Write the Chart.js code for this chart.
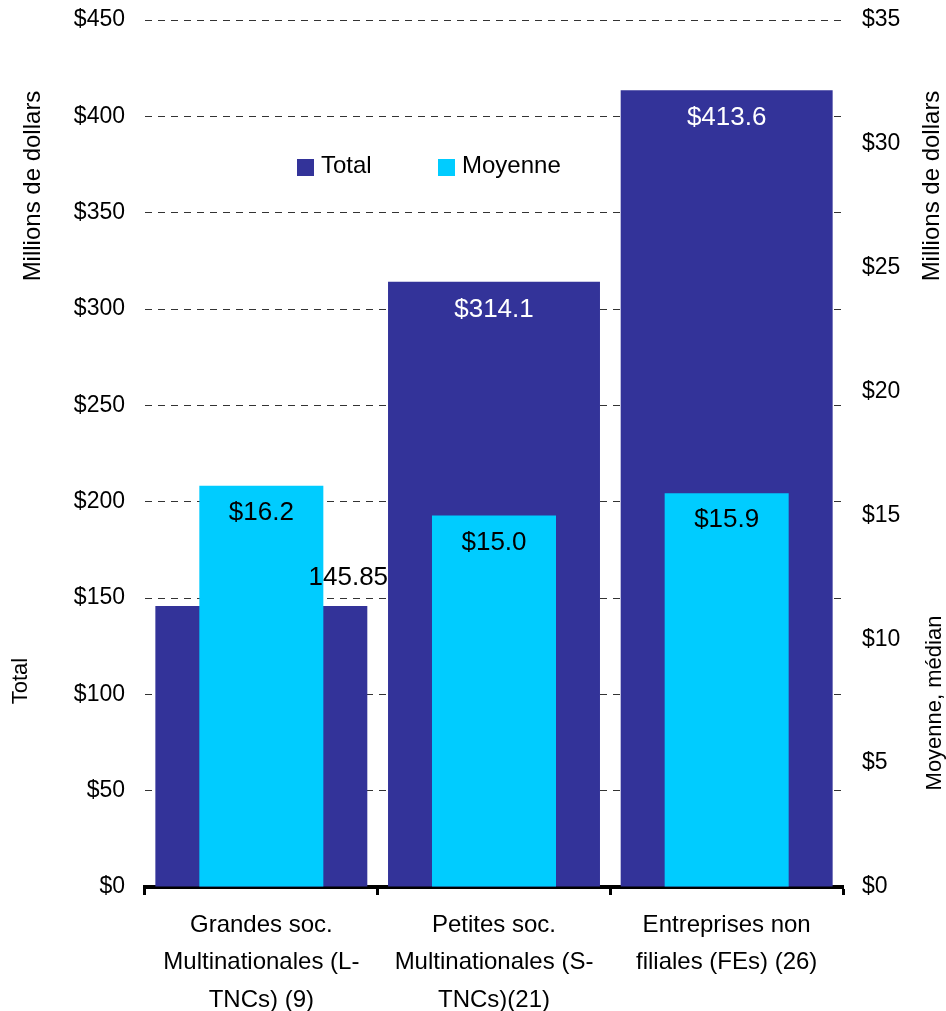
<!DOCTYPE html>
<html>
<head>
<meta charset="utf-8">
<script src="https://cdn.jsdelivr.net/npm/chart.js@4/dist/chart.umd.min.js"></script>
<style>
  html, body { margin: 0; padding: 0; background: #fff; }
  #wrap { width: 946px; height: 1011px; position: relative; }
</style>
</head>
<body>
<div id="wrap"><canvas id="chart"></canvas></div>
<script>
// categories and values (millions de dollars)
const categories = [
  ["Grandes soc.", "Multinationales (L-", "TNCs) (9)"],
  ["Petites soc.", "Multinationales (S-", "TNCs)(21)"],
  ["Entreprises non", "filiales (FEs) (26)"]
];
const totalValues = [145.85, 314.1, 413.6];
const moyenneValues = [16.2, 15.0, 15.9];
const seriesNames = ["Total", "Moyenne"];

const NAVY = "#333399";
const CYAN = "#00CCFF";
const FONT = "'Liberation Sans', Arial, sans-serif";

// value labels on the bars
const barLabels = {
  id: "barLabels",
  afterDatasetsDraw(chart) {
    const ctx = chart.ctx;
    ctx.save();
    ctx.font = "26px " + FONT;
    ctx.textAlign = "center";
    ctx.textBaseline = "middle";

    // dataset 1 = Total
    chart.getDatasetMeta(1).data.forEach((bar, i) => {
      const v = totalValues[i];
      if (i === 0) {
        // hidden behind the Moyenne bar, so it sits above the right edge
        ctx.fillStyle = "#000";
        ctx.fillText(String(v), bar.x + bar.width / 2 - 19, bar.y - 28);
      } else {
        ctx.fillStyle = "#fff";
        ctx.fillText("$" + v.toFixed(1), bar.x, bar.y + 28);
      }
    });

    // dataset 0 = Moyenne
    ctx.fillStyle = "#000";
    chart.getDatasetMeta(0).data.forEach((bar, i) => {
      ctx.fillText("$" + moyenneValues[i].toFixed(1), bar.x, bar.y + 27);
    });
    ctx.restore();
  }
};

// legend inside the plot + rotated axis titles
const decorations = {
  id: "decorations",
  afterDraw(chart) {
    const ctx = chart.ctx;
    ctx.save();
    ctx.font = "24px " + FONT;
    ctx.textBaseline = "middle";
    ctx.textAlign = "left";
    const legend = [
      { x: 297, color: NAVY, text: seriesNames[0] },
      { x: 438, color: CYAN, text: seriesNames[1] }
    ];
    legend.forEach(item => {
      ctx.fillStyle = item.color;
      ctx.fillRect(item.x, 159, 17, 17);
      ctx.fillStyle = "#000";
      ctx.fillText(item.text, item.x + 24, 166);
    });

    const vtext = (text, x, y) => {
      ctx.save();
      ctx.translate(x, y);
      ctx.rotate(-Math.PI / 2);
      ctx.textAlign = "center";
      ctx.textBaseline = "middle";
      ctx.fillText(text, 0, 0);
      ctx.restore();
    };
    ctx.font = "24px " + FONT;
    vtext("Millions de dollars", 33, 186);
    vtext("Millions de dollars", 932, 186);
    ctx.font = "22px " + FONT;
    vtext("Total", 21, 681);
    vtext("Moyenne, médian", 935, 703);
    ctx.restore();
  }
};

// fixed axis widths, and no extra room reserved for the end labels
const fitY = w => s => {
  s.width = w;
  s.paddingTop = 0;
  s.paddingBottom = 0;
};

new Chart(document.getElementById("chart"), {
  type: "bar",
  data: {
    labels: categories,
    datasets: [
      {
        label: seriesNames[1],
        data: moyenneValues,
        yAxisID: "y1",
        backgroundColor: CYAN,
        grouped: false,
        categoryPercentage: 1,
        barPercentage: 0.533,
        order: 0
      },
      {
        label: seriesNames[0],
        data: totalValues,
        yAxisID: "y",
        backgroundColor: NAVY,
        grouped: false,
        categoryPercentage: 1,
        barPercentage: 0.911,
        order: 1
      }
    ]
  },
  options: {
    responsive: true,
    maintainAspectRatio: false,
    animation: false,
    layout: { padding: { top: 20, left: 0, right: 0, bottom: 0 } },
    plugins: {
      legend: { display: false },
      tooltip: { enabled: false },
      title: { display: false }
    },
    scales: {
      x: {
        afterFit: s => { s.height = 124; },
        grid: {
          offset: true,
          drawOnChartArea: false,
          drawTicks: true,
          tickLength: 8,
          tickWidth: 3,
          tickColor: "#000"
        },
        border: { display: true, color: "#000", width: 4 },
        ticks: {
          color: "#000",
          padding: 12,
          maxRotation: 0,
          font: { family: FONT, size: 24, lineHeight: 1.55 }
        }
      },
      y: {
        position: "left",
        min: 0,
        max: 450,
        afterFit: fitY(145),
        grid: { color: "#333", lineWidth: 1, drawTicks: false },
        border: { display: false, dash: [7, 6] },
        ticks: {
          stepSize: 50,
          padding: 20,
          color: "#000",
          font: { family: FONT, size: 23 },
          callback: v => "$" + v
        }
      },
      y1: {
        position: "right",
        min: 0,
        max: 35,
        afterFit: fitY(103),
        grid: { drawOnChartArea: false, drawTicks: false },
        border: { display: false },
        ticks: {
          stepSize: 5,
          padding: 19,
          color: "#000",
          font: { family: FONT, size: 23 },
          callback: v => "$" + v
        }
      }
    }
  },
  plugins: [barLabels, decorations]
});
</script>
</body>
</html>
